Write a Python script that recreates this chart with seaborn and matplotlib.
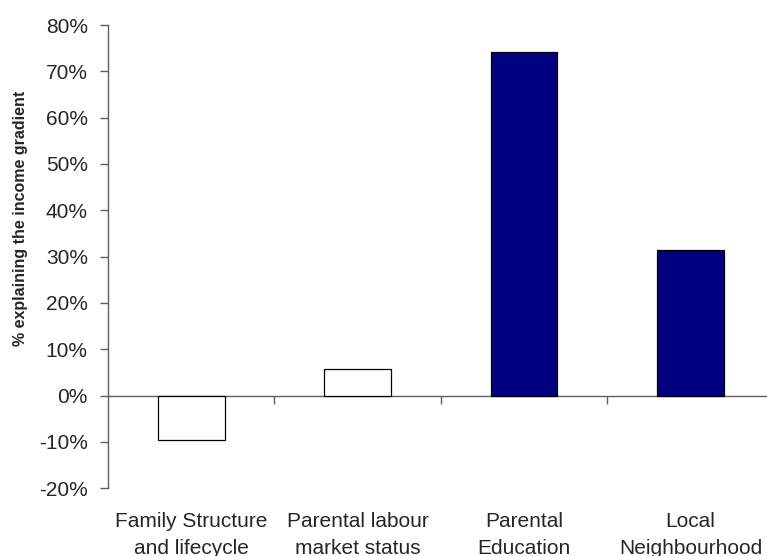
import matplotlib
matplotlib.use("Agg")
import matplotlib.pyplot as plt
import matplotlib.ticker as mticker
import seaborn as sns
import pandas as pd

categories = [
    "Family Structure\nand lifecycle",
    "Parental labour\nmarket status",
    "Parental\nEducation",
    "Local\nNeighbourhood",
]
values = [-9.7, 5.8, 74.1, 31.4]
bar_colors = ["white", "white", "#000080", "#000080"]

y_ticks = list(range(-20, 81, 10))
y_label = "% explaining the income gradient"

sns.set_style("white")
plt.rcParams["font.family"] = ["Liberation Sans", "DejaVu Sans"]

axis_grey = "#606060"

df = pd.DataFrame({"category": categories, "value": values})

fig = plt.figure(figsize=(7.67, 5.56), dpi=100)
ax = fig.add_axes([0.1408, 0.122, 0.868, 0.833])

sns.barplot(
    data=df, x="category", y="value", hue="category",
    palette=bar_colors, legend=False, width=0.4,
    edgecolor="black", linewidth=0.9, saturation=1, ax=ax,
)

ax.set_xlim(-0.5, 3.5)
ax.set_ylim(-20, 80)
ax.set_yticks(y_ticks)
ax.yaxis.set_major_formatter(mticker.FuncFormatter(lambda v, _: f"{v:.0f}%"))
ax.tick_params(axis="y", direction="out", length=6, width=1, color=axis_grey,
               labelsize=15, pad=8.5, left=True)
ax.tick_params(axis="x", length=0, labelsize=15, pad=17)
for lbl in ax.get_xticklabels():
    lbl.set_linespacing(1.55)

ax.set_xlabel("")
ax.set_ylabel(y_label, fontsize=11.5, fontweight="bold", va="center")
ax.yaxis.set_label_coords(-0.132, 0.583)

for side in ["top", "right", "bottom"]:
    ax.spines[side].set_visible(False)
ax.spines["left"].set_color(axis_grey)
ax.spines["left"].set_linewidth(1)

# zero line with category separator ticks (Excel-style category axis)
zero_frac = (0 - (-20)) / (80 - (-20))
sec = ax.secondary_xaxis(zero_frac)
sec.set_xticks([0.5, 1.5, 2.5])
sec.set_xticklabels([])
sec.tick_params(direction="out", length=6, width=1, color=axis_grey)
sec.spines["bottom"].set_color(axis_grey)
sec.spines["bottom"].set_linewidth(1)

fig.savefig("out.png", dpi=100)
